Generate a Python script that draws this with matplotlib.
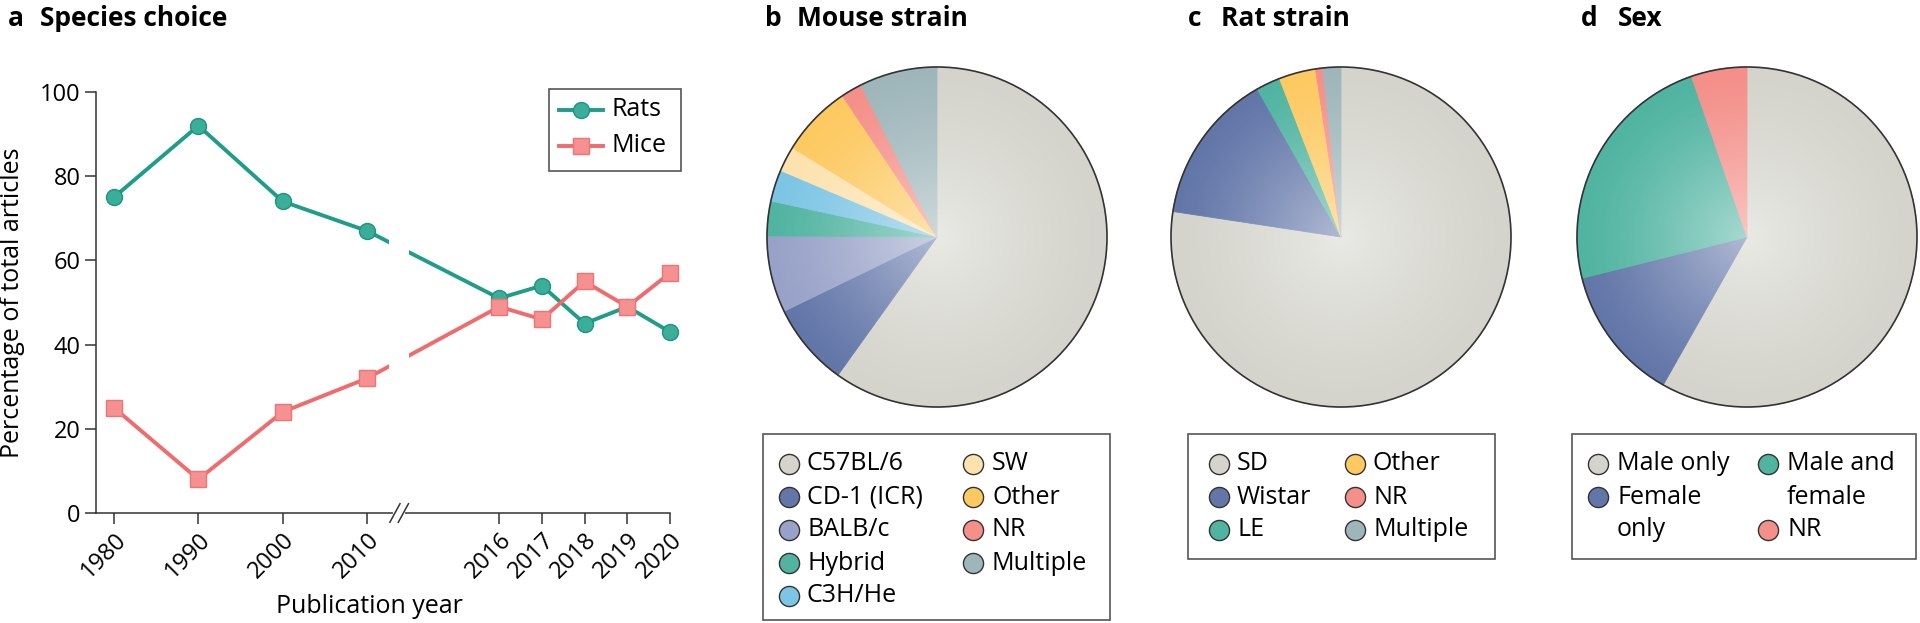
import numpy as np
import matplotlib
matplotlib.use("Agg")
import matplotlib.pyplot as plt
from matplotlib.patches import Circle, Rectangle

plt.rcParams['font.family'] = ['Open Sans', 'DejaVu Sans']

W, H = 1920, 623

# panel a: species choice (% of total articles)
years = [1980, 1990, 2000, 2010, 2016, 2017, 2018, 2019, 2020]
rats = [75, 92, 74, 67, 51, 54, 45, 49, 43]
mice = [25, 8, 24, 32, 49, 46, 55, 49, 57]

# panel b: mouse strain
mouse_labels = ['C57BL/6', 'CD-1 (ICR)', 'BALB/c', 'Hybrid', 'C3H/He',
                'SW', 'Other', 'NR', 'Multiple']
mouse_pct = [59.9, 7.9, 7.3, 3.3, 3.0, 2.4, 6.8, 2.0, 7.4]

# panel c: rat strain
rat_labels = ['SD', 'Wistar', 'LE', 'Other', 'NR', 'Multiple']
rat_pct = [77.4, 14.4, 2.3, 3.5, 0.7, 1.7]

# panel d: sex
sex_labels = ['Male only', 'Female\nonly', 'Male and\nfemale', 'NR']
sex_pct = [58.2, 12.9, 23.6, 5.3]

GREY = '#d4d4cc'
BLUE = '#6276a8'
LAV = '#98a2c8'
TEAL = '#50b4a1'
LBLUE = '#7cc5e5'
PALE = '#fde2ae'
YEL = '#fdc960'
SALMON = '#f48f89'
GTEAL = '#9eb6ba'

mouse_colors = [GREY, BLUE, LAV, TEAL, LBLUE, PALE, YEL, SALMON, GTEAL]
rat_colors = [GREY, BLUE, TEAL, YEL, SALMON, GTEAL]
sex_colors = [GREY, BLUE, TEAL, SALMON]

RAT_LINE = '#1f9d88'
MICE_LINE = '#f06b6c'


def year_pos(y):
    # broken axis: decades before the break, single years after
    if y <= 2010:
        return (y - 1980) / 10
    return 3 + 1.566 + (y - 2016) * 0.506


def fig_rect(x0, y0, x1, y1):
    return [x0 / W, 1 - y1 / H, (x1 - x0) / W, (y1 - y0) / H]


fig = plt.figure(figsize=(W / 100, H / 100), dpi=100)

# ---- panel a
ax = fig.add_axes(fig_rect(96, 92, 670, 513))
pos = [year_pos(y) for y in years]
ax.plot(pos, rats, color=RAT_LINE, lw=2.8, marker='o', ms=11.5,
        mfc='#3aae99', mec='#1c9480', mew=1.0, clip_on=False, zorder=2)
ax.plot(pos, mice, color=MICE_LINE, lw=2.8, marker='s', ms=11,
        mfc='#f59191', mec='#f07474', mew=1.0, clip_on=False, zorder=2)
ax.axvspan(3.26, 3.50, ymin=0.004, ymax=1, color='white', zorder=2.3, lw=0)
ax.set_xlim(-0.213, 6.59)
ax.set_ylim(0, 100)
ax.set_yticks(range(0, 101, 20))
ax.set_xticks(pos)
ax.set_xticklabels([str(y) for y in years], rotation=45, ha='right',
                   va='top', rotation_mode='anchor')
for s in ['top', 'right']:
    ax.spines[s].set_visible(False)
for s in ['left', 'bottom']:
    ax.spines[s].set_color('#333333')
    ax.spines[s].set_linewidth(1.1)
ax.tick_params(direction='out', length=8, width=1.1, color='#333333',
               labelsize=17, pad=3)
ax.set_ylabel('Percentage of total articles', fontsize=18)
ax.set_xlabel('Publication year', fontsize=18)
ax.yaxis.set_label_coords(-0.145, 0.5)
ax.yaxis.label.set_va('center')
ax.xaxis.set_label_coords(0.476, -0.221)
ax.xaxis.label.set_va('center')

# axis break marks
xt = ax.get_xaxis_transform()
ax.plot([3.33, 3.43], [0, 0], color='white', lw=3, transform=xt,
        clip_on=False, zorder=3)
for c in (3.33, 3.43):
    ax.plot([c - 0.06, c + 0.06], [-0.022, 0.022], color='#333333', lw=1.1,
            transform=xt, clip_on=False, zorder=4)


# ---- pies
def draw_pie(cx, values, colors, cy=237, r=170):
    pa = fig.add_axes(fig_rect(cx - r, cy - r, cx + r, cy + r))
    wedges, _ = pa.pie(values, colors=colors, startangle=90, counterclock=False,
                       wedgeprops={'linewidth': 0.6})
    for w, c in zip(wedges, colors):
        w.set_edgecolor(c)
    n = 400
    g = np.linspace(-1, 1, n)
    X, Y = np.meshgrid(g, g)
    R = np.hypot(X, Y)
    img = np.ones((n, n, 4))
    img[..., 3] = 0.5 * np.clip(1 - R, 0, 1) ** 1.3
    im = pa.imshow(img, extent=[-1, 1, -1, 1], zorder=3, interpolation='bilinear')
    clip = Circle((0, 0), 1, transform=pa.transData)
    im.set_clip_path(clip)
    pa.add_patch(Circle((0, 0), 1, fill=False, ec='#333333', lw=1.2,
                        zorder=4, clip_on=False))
    pa.set_xlim(-1, 1)
    pa.set_ylim(-1, 1)
    pa.axis('off')


draw_pie(937, mouse_pct, mouse_colors)
draw_pie(1341, rat_pct, rat_colors)
draw_pie(1747, sex_pct, sex_colors)

# ---- overlay for titles and legends (pixel coordinates)
ov = fig.add_axes([0, 0, 1, 1], zorder=10)
ov.set_xlim(0, W)
ov.set_ylim(H, 0)
ov.axis('off')
ov.patch.set_alpha(0)

for letter, lx, title, tx in [('a', 8, 'Species choice', 40),
                              ('b', 765, 'Mouse strain', 797),
                              ('c', 1188, 'Rat strain', 1221),
                              ('d', 1581, 'Sex', 1618)]:
    ov.text(lx, 18, letter, fontsize=19, fontweight='bold', va='center')
    ov.text(tx, 18, title, fontsize=19, fontweight='bold', va='center')

# legend a
ov.add_patch(Rectangle((549, 89), 132, 82, fc='white', ec='#555555', lw=1.2))
for yy, lab, col, mk, mfc, mec in [(110, 'Rats', RAT_LINE, 'o', '#3aae99', '#1c9480'),
                                   (146, 'Mice', MICE_LINE, 's', '#f59191', '#f07474')]:
    ov.plot([559, 603], [yy, yy], color=col, lw=2.8)
    ov.plot([581], [yy], marker=mk, ms=11.5, mfc=mfc, mec=mec, mew=1.0)
    ov.text(611, yy, lab, fontsize=18, va='center')


def draw_legend(box, labels, colors, cols, row0=464, step=33):
    x0, y0, x1, y1 = box
    ov.add_patch(Rectangle((x0, y0), x1 - x0, y1 - y0, fc='white',
                           ec='#555555', lw=1.2))
    per_col = int(np.ceil(len(labels) / 2))
    for i, (lab, col) in enumerate(zip(labels, colors)):
        mx, tx = cols[i // per_col]
        row = sum(len(l.split('\n')) for l in labels[(i // per_col) * per_col:i])
        yy = row0 + row * step
        ov.scatter([mx], [yy], s=210, color=col, edgecolors='#333333',
                   linewidths=1.0, zorder=3)
        for k, line in enumerate(lab.split('\n')):
            ov.text(tx, yy + k * step, line, fontsize=18, va='center')


draw_legend((763, 434, 1110, 620), mouse_labels, mouse_colors,
            [(789, 807), (973, 992)])
draw_legend((1188, 434, 1495, 559), rat_labels, rat_colors,
            [(1219, 1237), (1355, 1373)])
draw_legend((1572, 434, 1916, 559), sex_labels, sex_colors,
            [(1598, 1617), (1768, 1787)])

fig.savefig('out.png', dpi=100)
